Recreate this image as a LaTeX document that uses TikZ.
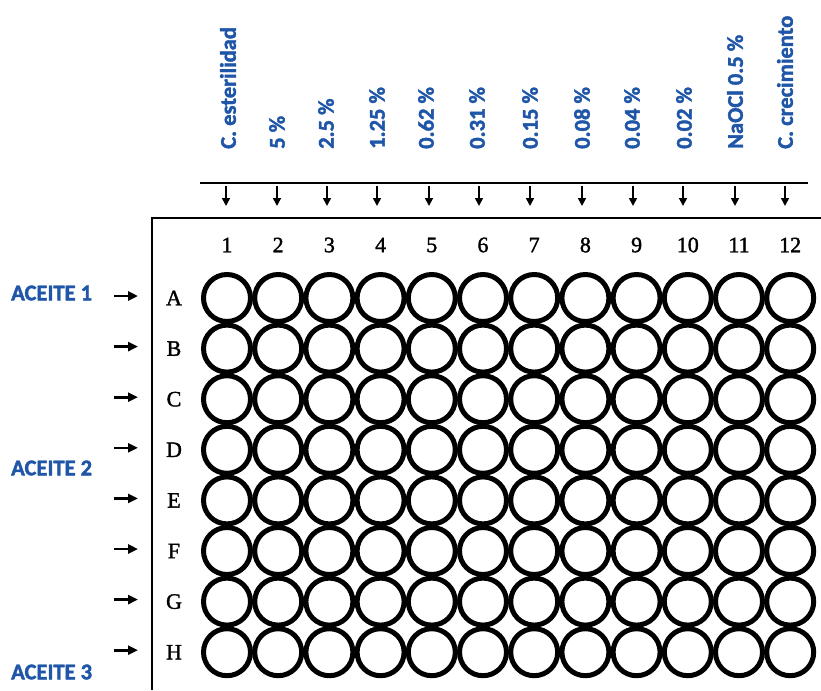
\documentclass[tikz,border=0pt]{standalone}
\usepackage{fontspec}
\setmainfont{Liberation Serif}[FakeBold=1.6]
\newfontfamily\lblfont{Carlito}[BoldFeatures={FakeBold=1.8}]
\usetikzlibrary{arrows.meta}
\definecolor{lblblue}{RGB}{31,86,168}
\begin{document}
\begin{tikzpicture}[x=1pt,y=-1pt,
  collbl/.style={font=\lblfont\bfseries\fontsize{22.5}{22.5}\selectfont, text=lblblue, rotate=90, anchor=west, inner sep=0pt},
  rowlbl/.style={font=\lblfont\bfseries\fontsize{22.5}{22.5}\selectfont, text=lblblue, inner sep=0pt},
  numlbl/.style={font=\fontsize{22}{22}\selectfont, inner sep=0pt},
  well/.style={circle, draw=black, line width=5pt, minimum size=47pt, inner sep=0pt},
  toparrow/.style={line width=1.6pt, -{Triangle[length=8pt,width=8pt]}},
  rowarrow/.style={line width=2.6pt, -{Triangle[length=10pt,width=9pt]}},
  frame/.style={line width=1.8pt}]
\useasboundingbox (0,0) rectangle (821,690);
% column labels
\foreach \i/\t/\xx in {1/C. esterilidad/228, 2/5 \%/277, 3/2.5 \%/326, 4/1.25 \%/377, 5/0.62 \%/426, 6/0.31 \%/477, 7/0.15 \%/530, 8/0.08 \%/582, 9/0.04 \%/632, 10/0.02 \%/684, 11/NaOCl 0.5 \%/735, 12/C. crecimiento/785} {
  \node[collbl] (cl\i) at (\xx,149) {\t};
}
% top line and arrows
\coordinate (tl1) at (200,183);
\coordinate (tl2) at (808,183);
\draw[frame] (tl1) -- (tl2);
\foreach \i/\xx in {1/226, 2/277, 3/327, 4/377, 5/429, 6/479, 7/530, 8/582, 9/633, 10/683, 11/735, 12/785} {
  \coordinate (as\i) at (\xx,186);
  \coordinate (ae\i) at (\xx,206);
  \draw[toparrow] (as\i) -- (ae\i);
}
% plate frame
\coordinate (pf1) at (152,690);
\coordinate (pf2) at (152,218);
\coordinate (pf3) at (821,218);
\draw[frame] (pf1) -- (pf2) -- (pf3);
% column numbers
\foreach \i in {1,...,12} {
  \pgfmathsetmacro{\xx}{227+51.2*(\i-1)}
  \node[numlbl] (cn\i) at (\xx,245) {\i};
}
% rows
\foreach \r/\L in {1/A,2/B,3/C,4/D,5/E,6/F,7/G,8/H} {
  \pgfmathsetmacro{\yy}{298+50.6*(\r-1)}
  \node[numlbl] (rl\r) at (174,\yy) {\L};
  \coordinate (ra\r) at (114,\yy-2);
  \coordinate (rb\r) at (138,\yy-2);
  \draw[rowarrow] (ra\r) -- (rb\r);
  \foreach \c in {1,...,12} {
    \pgfmathsetmacro{\xx}{227+51.2*(\c-1)}
    \node[well] (w\r-\c) at (\xx,\yy) {};
  }
}
% oil labels
\node[rowlbl, anchor=west] (oil1) at (11,293) {ACEITE 1};
\node[rowlbl, anchor=west] (oil2) at (11,468) {ACEITE 2};
\node[rowlbl, anchor=west] (oil3) at (11,672) {ACEITE 3};
\end{tikzpicture}
\end{document}
